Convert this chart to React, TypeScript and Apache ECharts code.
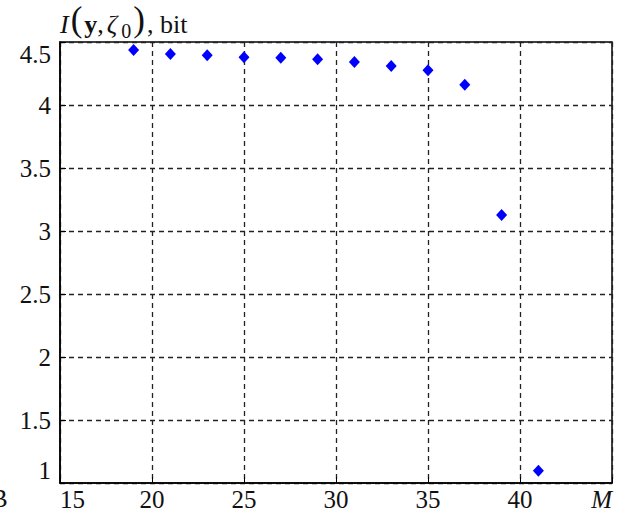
import React, { useEffect, useRef } from "react";
import * as echarts from "echarts";

const mValues = [19, 21, 23, 25, 27, 29, 31, 33, 35, 37, 39, 41];
const infoValues = [4.437, 4.405, 4.394, 4.379, 4.375, 4.363, 4.341, 4.31, 4.275, 4.161, 3.127, 1.098];
const xTicks = [15, 20, 25, 30, 35, 40, 45];
const yTicks = [1, 1.5, 2, 2.5, 3, 3.5, 4, 4.5];
const xAxisName = "M";
const titleParts = ["I", "(", "y", ",", "ζ", "0", ")", ", bit"];

const FONT = "'Liberation Serif', 'Times New Roman', serif";

export default function App() {
  const ref = useRef<HTMLDivElement>(null);
  useEffect(() => {
    if (!ref.current) return;
    const chart = echarts.init(ref.current, null, { renderer: "svg" });
    const data = mValues.map((m, i) => [m, infoValues[i]]);
    const xMax = xTicks[xTicks.length - 1];
    chart.setOption({
      animation: false,
      grid: {
        left: 60,
        right: 7,
        top: 42,
        bottom: 33,
        show: true,
        borderColor: "#000",
        borderWidth: 1.5,
        backgroundColor: "#fff",
      },
      graphic: [
        {
          type: "text",
          left: 60,
          top: 2,
          style: {
            text:
              `{it|${titleParts[0]}}{par|${titleParts[1]}}{bold|${titleParts[2]}}{n|${titleParts[3]}}` +
              `{it|${titleParts[4]}}{sub|${titleParts[5]}}{par|${titleParts[6]}}{n|${titleParts[7]}}`,
            rich: {
              it: { fontFamily: FONT, fontStyle: "italic", fontSize: 26, fill: "#111", verticalAlign: "bottom", padding: [0, 2, 0, 0] },
              par: { fontFamily: FONT, fontSize: 35, fill: "#111", verticalAlign: "bottom", padding: [0, 2, 0, 0] },
              bold: { fontFamily: FONT, fontWeight: "bold", fontSize: 26, fill: "#111", verticalAlign: "bottom" },
              n: { fontFamily: FONT, fontSize: 26, fill: "#111", verticalAlign: "bottom", padding: [0, 3, 0, 0] },
              sub: { fontFamily: FONT, fontSize: 20, fill: "#111", verticalAlign: "bottom", padding: [0, 2, -4, 2] },
            },
          },
        },
        {
          type: "text",
          left: -9,
          top: 486,
          style: { text: "B", fontFamily: FONT, fontSize: 25, fill: "#111" },
        },
      ],
      xAxis: {
        type: "value",
        min: xTicks[0],
        max: xMax,
        interval: 5,
        axisLine: { show: true, lineStyle: { color: "#000", width: 1.5 } },
        axisTick: { show: true, inside: true, length: 6, lineStyle: { color: "#000" } },
        axisLabel: {
          fontFamily: FONT,
          fontSize: 25,
          color: "#111",
          margin: 4,
          alignMinLabel: "left",
          alignMaxLabel: "right",
          formatter: (v: number) => (v === xMax ? `{m|${xAxisName}}` : String(v)),
          rich: {
            m: { fontFamily: FONT, fontSize: 25, fontStyle: "italic", color: "#111" },
          },
        },
        splitLine: { show: true, lineStyle: { color: "#222", type: [5, 4], width: 1.3 } },
      },
      yAxis: {
        type: "value",
        min: yTicks[0],
        max: yTicks[yTicks.length - 1],
        interval: 0.5,
        axisLine: { show: true, lineStyle: { color: "#000", width: 1.5 } },
        axisTick: { show: true, inside: true, length: 6, lineStyle: { color: "#000" } },
        axisLabel: {
          fontFamily: FONT,
          fontSize: 25,
          color: "#111",
          margin: 9,
          verticalAlignMinLabel: "bottom",
          verticalAlignMaxLabel: "top",
          formatter: (v: number) => String(v),
        },
        splitLine: { show: true, lineStyle: { color: "#222", type: [5, 4], width: 1.3 } },
      },
      series: [
        {
          type: "scatter",
          data,
          symbol: "diamond",
          symbolSize: [11, 12],
          itemStyle: { color: "#0000ff", opacity: 1 },
        },
      ],
    });
    return () => chart.dispose();
  }, []);
  return <div ref={ref} style={{ width: 619, height: 516, position: "absolute", left: 0, top: 0 }} />;
}
